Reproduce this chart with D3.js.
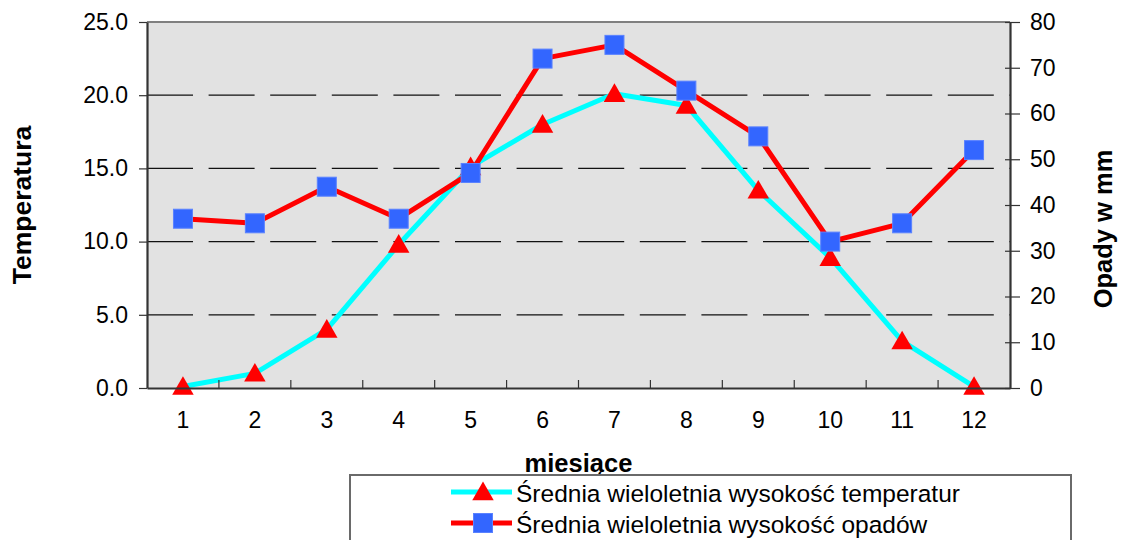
<!DOCTYPE html>
<html>
<head>
<meta charset="utf-8">
<script src="https://cdn.jsdelivr.net/npm/d3@7"></script>
<style>
  body { margin: 0; background: #fff; }
  svg { display: block; font-family: "Liberation Sans", Arial, sans-serif; }
</style>
</head>
<body>
<svg id="chart" width="1124" height="540"></svg>
<script>
var months = [1, 2, 3, 4, 5, 6, 7, 8, 9, 10, 11, 12];
var temperature = [0.1, 1.0, 4.0, 9.8, 15.1, 18.0, 20.1, 19.3, 13.5, 8.9, 3.2, 0.1];
var precipitation = [37, 36, 44, 37, 47, 72, 75, 65, 55, 32, 36, 52];
var tempTicks = [0, 5, 10, 15, 20, 25];
var precipTicks = [0, 10, 20, 30, 40, 50, 60, 70, 80];
var seriesNames = ["Średnia wieloletnia wysokość temperatur", "Średnia wieloletnia wysokość opadów"];

var plot = { left: 147, right: 1010, top: 22, bottom: 388 };

var svg = d3.select("#chart");

var x = d3.scaleBand().domain(months).range([plot.left, plot.right]);
var yT = d3.scaleLinear().domain([0, 25]).range([plot.bottom, plot.top]);
var yP = d3.scaleLinear().domain([0, 80]).range([plot.bottom, plot.top]);
var cx = function(m) { return x(m) + x.bandwidth() / 2; };

// plot background
svg.append("rect")
  .attr("x", plot.left).attr("y", plot.top)
  .attr("width", plot.right - plot.left).attr("height", plot.bottom - plot.top)
  .attr("fill", "#e2e2e2");

// dashed gridlines (left axis)
svg.append("g").selectAll("line")
  .data(tempTicks.filter(function(d) { return d > 0 && d < 25; }))
  .enter().append("line")
  .attr("x1", plot.left).attr("x2", plot.right)
  .attr("y1", function(d) { return yT(d); }).attr("y2", function(d) { return yT(d); })
  .attr("stroke", "#111").attr("stroke-width", 1.2)
  .attr("stroke-dasharray", "46,15.6");

var triangle = d3.symbol().type(d3.symbolTriangle).size(200);

// lines
var tempLine = d3.line().x(function(d, i) { return cx(months[i]); }).y(function(d) { return yT(d); });
var precLine = d3.line().x(function(d, i) { return cx(months[i]); }).y(function(d) { return yP(d); });

svg.append("path").datum(temperature)
  .attr("d", tempLine).attr("fill", "none")
  .attr("stroke", "#00ffff").attr("stroke-width", 5).attr("stroke-linejoin", "round");

svg.append("path").datum(precipitation)
  .attr("d", precLine).attr("fill", "none")
  .attr("stroke", "#ff0000").attr("stroke-width", 5).attr("stroke-linejoin", "round");

// markers
svg.append("g").selectAll("path")
  .data(temperature).enter().append("path")
  .attr("d", triangle)
  .attr("transform", function(d, i) { return "translate(" + cx(months[i]) + "," + (yT(d) + 2) + ")"; })
  .attr("fill", "#ff0000");

var sq = 19;
svg.append("g").selectAll("rect")
  .data(precipitation).enter().append("rect")
  .attr("x", function(d, i) { return cx(months[i]) - sq / 2; })
  .attr("y", function(d) { return yP(d) - sq / 2; })
  .attr("width", sq).attr("height", sq)
  .attr("fill", "#3366ff").attr("stroke", "#5a82ff").attr("stroke-width", 1);

// plot frame
svg.append("line")
  .attr("x1", plot.left).attr("x2", plot.right).attr("y1", plot.top).attr("y2", plot.top)
  .attr("stroke", "#808080").attr("stroke-width", 2);

// left axis
var leftAxis = svg.append("g")
  .attr("transform", "translate(" + plot.left + ",0)")
  .call(d3.axisLeft(yT).tickValues(tempTicks).tickFormat(d3.format(".1f")).tickSize(8).tickSizeOuter(0).tickPadding(11));

// right axis with crossing ticks
var rightAxis = svg.append("g")
  .attr("transform", "translate(" + plot.right + ",0)")
  .call(d3.axisRight(yP).tickValues(precipTicks).tickSize(10).tickSizeOuter(0).tickPadding(10));
rightAxis.selectAll(".tick line").attr("x1", -5);

// bottom axis: labels at centres, ticks at category boundaries pointing inward
var bottomAxis = svg.append("g")
  .attr("transform", "translate(0," + plot.bottom + ")")
  .call(d3.axisBottom(x).tickSize(0).tickSizeOuter(0).tickPadding(24));
bottomAxis.selectAll(".tick-b").data(months.slice(1)).enter().append("line")
  .attr("x1", function(m) { return x(m); }).attr("x2", function(m) { return x(m); })
  .attr("y1", 0).attr("y2", -8)
  .attr("stroke", "#333").attr("stroke-width", 1.2);

[leftAxis, rightAxis, bottomAxis].forEach(function(g) {
  g.select(".domain").attr("stroke", "#333").attr("stroke-width", 2.2);
  g.selectAll(".tick line").attr("stroke", "#333").attr("stroke-width", 1.2);
  g.selectAll("text").attr("fill", "#000").style("font-size", "23px")
    .style("font-family", "'Liberation Sans', Arial, sans-serif");
});

// axis titles
svg.append("text")
  .attr("transform", "translate(31,205) rotate(-90)")
  .attr("text-anchor", "middle")
  .style("font-size", "26.5px").style("font-weight", "bold")
  .text("Temperatura");

svg.append("text")
  .attr("transform", "translate(1112,229) rotate(-90)")
  .attr("text-anchor", "middle")
  .style("font-size", "25.5px").style("font-weight", "bold")
  .text("Opady w mm");

svg.append("text")
  .attr("x", (plot.left + plot.right) / 2).attr("y", 472)
  .attr("text-anchor", "middle")
  .style("font-size", "25.5px").style("font-weight", "bold")
  .text("miesiące");

// legend
var legend = svg.append("g");
legend.append("rect")
  .attr("x", 350).attr("y", 475).attr("width", 721).attr("height", 100)
  .attr("fill", "#fff").attr("stroke", "#6a6a6a").attr("stroke-width", 2);

var legendY = [492, 523];
var keyX0 = 451, keyX1 = 512, keyMid = 483;
legend.append("line")
  .attr("x1", keyX0).attr("x2", keyX1).attr("y1", legendY[0]).attr("y2", legendY[0])
  .attr("stroke", "#00ffff").attr("stroke-width", 5);
legend.append("path")
  .attr("d", triangle)
  .attr("transform", "translate(" + keyMid + "," + (legendY[0] + 2) + ")")
  .attr("fill", "#ff0000");
legend.append("line")
  .attr("x1", keyX0).attr("x2", keyX1).attr("y1", legendY[1]).attr("y2", legendY[1])
  .attr("stroke", "#ff0000").attr("stroke-width", 5);
legend.append("rect")
  .attr("x", keyMid - 9.5).attr("y", legendY[1] - 9.5).attr("width", 19).attr("height", 19)
  .attr("fill", "#3366ff").attr("stroke", "#5a82ff").attr("stroke-width", 1);

legend.selectAll("text.series").data(seriesNames).enter().append("text")
  .attr("x", 516).attr("y", function(d, i) { return legendY[i] + 10; })
  .style("font-size", "24.5px")
  .text(function(d) { return d; });
</script>
</body>
</html>
